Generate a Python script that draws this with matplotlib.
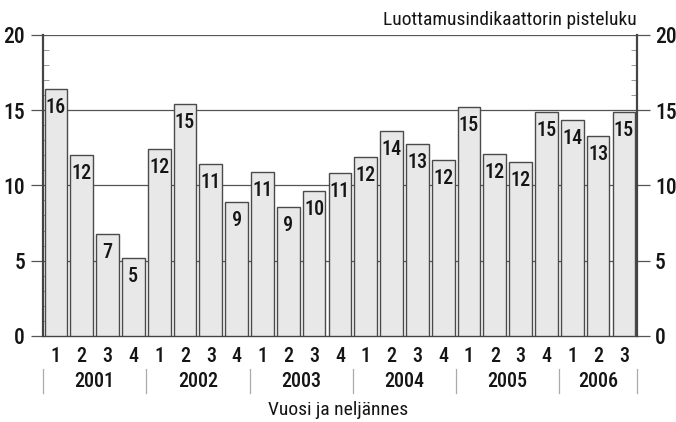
import matplotlib
matplotlib.use("Agg")
import matplotlib.pyplot as plt
from matplotlib.ticker import MultipleLocator

FONT = ['Roboto Condensed', 'Archivo Narrow', 'PT Sans Narrow', 'Liberation Sans Narrow', 'DejaVu Sans']
plt.rcParams['font.family'] = FONT
plt.rcParams['font.weight'] = 'medium'

years = ['2001', '2002', '2003', '2004', '2005', '2006']
quarters = ['1', '2', '3', '4', '1', '2', '3', '4', '1', '2', '3', '4',
            '1', '2', '3', '4', '1', '2', '3', '4', '1', '2', '3']
values = [16.4, 12.0, 6.8, 5.2, 12.4, 15.4, 11.4, 8.9, 10.9, 8.55, 9.6, 10.8,
          11.9, 13.6, 12.75, 11.7, 15.2, 12.1, 11.55, 14.9, 14.35, 13.25, 14.9]
labels = ['16', '12', '7', '5', '12', '15', '11', '9', '11', '9', '10', '11',
          '12', '14', '13', '12', '15', '12', '12', '15', '14', '13', '15']
quarters_per_year = [4, 4, 4, 4, 4, 3]

fig = plt.figure(figsize=(6.76, 4.22), dpi=100)
ax = fig.add_axes([0.0636, 0.2038, 0.8784, 0.714])

x = list(range(len(values)))
edge = '#4a4a4a'
ax.bar(x, values, width=0.88, color='#e8e8e8', edgecolor=edge, linewidth=1.0, zorder=3)

for xi, v, lab in zip(x, values, labels):
    ax.text(xi, v - 1.6, lab, ha='center', va='baseline', fontsize=14.5,
            color='#151515', zorder=4)

ax.set_xlim(-0.5, len(values) - 0.5)
ax.set_ylim(0, 20)

for g in [5, 10, 15, 20]:
    ax.axhline(g, color='#555555', linewidth=0.9, zorder=1)

ax.yaxis.set_major_locator(MultipleLocator(5))
ax.yaxis.set_minor_locator(MultipleLocator(1))
ax.tick_params(axis='y', which='major', direction='out', length=9, width=0.9,
               color='#555555', labelsize=15.5, labelcolor='#151515',
               left=True, right=True, labelleft=True, labelright=True, pad=4)
ax.tick_params(axis='y', which='minor', direction='in', length=4, width=0.6,
               color='#888888', left=True, right=True)

ax.set_xticks(x)
ax.set_xticklabels(quarters)
ax.tick_params(axis='x', which='major', direction='in', length=7, width=0.6,
               color='#aaaaaa', labelsize=14.5, labelcolor='#151515', pad=8)

ax.spines['top'].set_visible(False)
ax.spines['left'].set_color('#444444')
ax.spines['left'].set_linewidth(1.6)
ax.spines['right'].set_color('#444444')
ax.spines['right'].set_linewidth(1.6)
ax.spines['bottom'].set_color('#444444')
ax.spines['bottom'].set_linewidth(1.0)

trans = ax.get_xaxis_transform()
start = -0.5
for yr, n in zip(years, quarters_per_year):
    end = start + n
    ax.plot([start, start], [-0.11, -0.19], transform=trans, color='#aaaaaa',
            linewidth=0.9, clip_on=False)
    ax.text((start + end) / 2, -0.15, yr, transform=trans, ha='center', va='center',
            fontsize=14.5, color='#151515')
    start = end
ax.plot([start, start], [-0.11, -0.19], transform=trans, color='#aaaaaa',
        linewidth=0.9, clip_on=False)

fig.text(0.5, 0.028, 'Vuosi ja neljännes', ha='center', va='center', fontsize=14,
         fontweight='normal', color='#151515')
fig.text(0.942, 0.953, 'Luottamusindikaattorin pisteluku', ha='right', va='center',
         fontsize=14, fontweight='normal', color='#151515')

fig.savefig('out.png', dpi=100)
